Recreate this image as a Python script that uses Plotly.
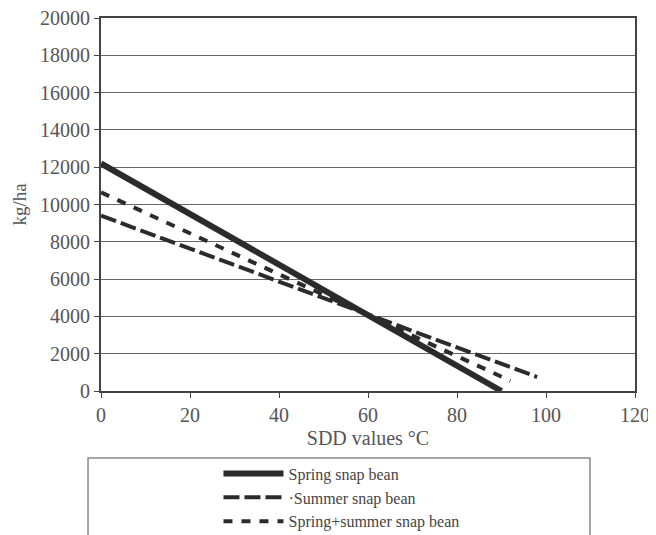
import plotly.graph_objects as go

sdd_spring = [0, 90]
yield_spring = [12200, 0]
sdd_summer = [0, 98]
yield_summer = [9400, 750]
sdd_both = [0, 92]
yield_both = [10650, 550]

names = ["Spring snap bean", "\u00b7Summer snap bean", "Spring+summer snap bean"]
x_ticks = [0, 20, 40, 60, 80, 100, 120]
y_ticks = list(range(0, 20001, 2000))

FONT = "Liberation Serif, Times New Roman, serif"
LINE_COLOR = "#2b2b2b"

fig = go.Figure()
fig.add_trace(go.Scatter(x=sdd_spring, y=yield_spring, mode="lines", name=names[0],
                         line=dict(color=LINE_COLOR, width=6)))
fig.add_trace(go.Scatter(x=sdd_summer, y=yield_summer, mode="lines", name=names[1],
                         line=dict(color=LINE_COLOR, width=4, dash="16px,5px")))
fig.add_trace(go.Scatter(x=sdd_both, y=yield_both, mode="lines", name=names[2],
                         line=dict(color=LINE_COLOR, width=4, dash="9px,9px")))

# legend frame
fig.add_shape(type="rect", xref="paper", yref="paper",
              x0=-0.0243, x1=0.9157, y0=-0.42, y1=-0.1796,
              line=dict(color="#888", width=1.5), fillcolor="rgba(0,0,0,0)")

fig.update_layout(
    width=648, height=527,
    margin=dict(l=93, r=21, t=10, b=144, autoexpand=False),
    paper_bgcolor="white", plot_bgcolor="white",
    font=dict(family=FONT, size=20, color="#555"),
    showlegend=True,
    legend=dict(x=0.22, y=-0.176, xanchor="left", yanchor="top",
                bgcolor="rgba(0,0,0,0)", borderwidth=0,
                font=dict(family=FONT, size=16, color="#444"),
                itemwidth=60, tracegroupgap=0),
    xaxis=dict(range=[0, 120], tickvals=x_ticks, showgrid=False, zeroline=False,
               automargin=False, ticklabeloverflow="allow",
               showline=True, linecolor="#444", linewidth=2, mirror=True,
               ticks="outside", ticklen=5, tickcolor="#444",
               title=dict(text="SDD values \u00b0C", font=dict(size=20, color="#555"), standoff=6)),
    yaxis=dict(range=[0, 20000], tickvals=y_ticks, tickformat="d",
               automargin=False, ticklabeloverflow="allow",
               showgrid=True, gridcolor="#666", gridwidth=1, zeroline=False,
               showline=True, linecolor="#444", linewidth=2, mirror=True,
               ticks="outside", ticklen=5, tickcolor="#444",
               title=dict(text="kg/ha", font=dict(size=19, color="#555"), standoff=8)),
)

fig.write_html("out.html")
